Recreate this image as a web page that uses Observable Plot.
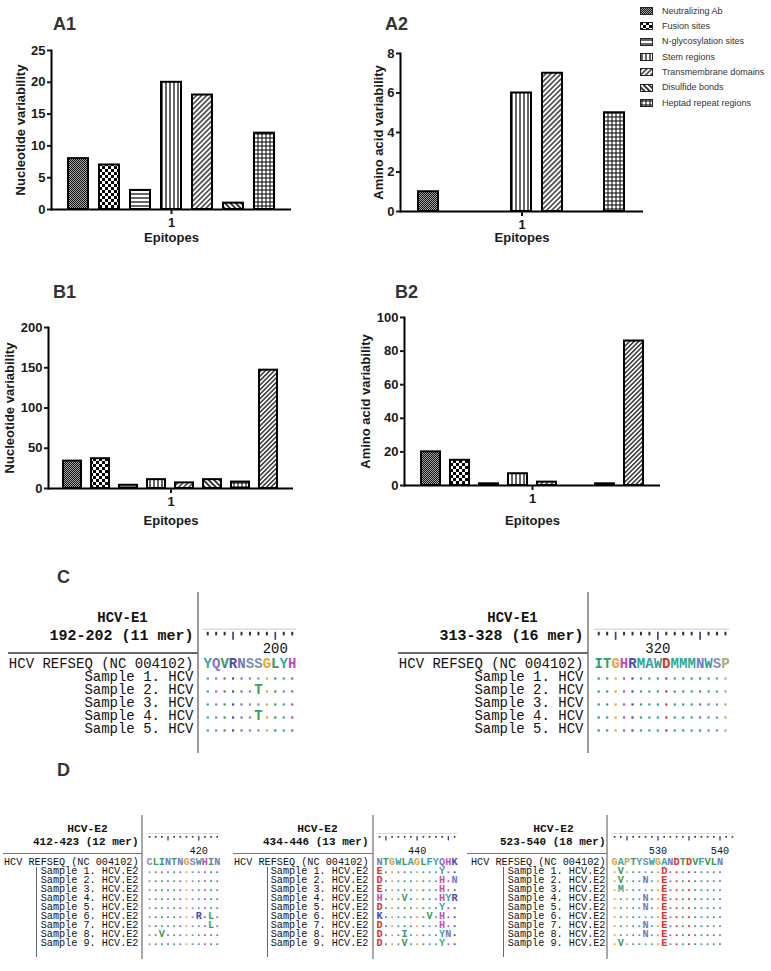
<!DOCTYPE html>
<html>
<head>
<meta charset="utf-8">
<script src="https://cdn.jsdelivr.net/npm/d3@7"></script>
<script src="https://cdn.jsdelivr.net/npm/@observablehq/plot@0.6"></script>
<style>
  html, body { margin: 0; padding: 0; background: #fff; }
  #page { position: relative; width: 771px; height: 971px; overflow: hidden; background: #fff; }
  .ttl { position: absolute; font: bold 18px "Liberation Sans", Arial, sans-serif; line-height: 18px; color: #333; white-space: nowrap; }
  .leg { position: absolute; font: 9px "Liberation Sans", Arial, sans-serif; line-height: 11px; color: #333; white-space: nowrap; display: flex; align-items: center; }
  .leg svg { margin-right: 9px; }
  .ln { position: absolute; }
</style>
</head>
<body>
<svg width="0" height="0" style="position:absolute;left:0;top:0">
  <defs>
    <pattern id="pat-neut" width="2" height="2" patternUnits="userSpaceOnUse">
      <rect width="2" height="2" fill="#a8a8a8"/>
      <rect width="1" height="1" fill="#111"/>
      <rect x="1" y="1" width="1" height="1" fill="#111"/>
    </pattern>
    <pattern id="pat-fusion" width="6" height="6" patternUnits="userSpaceOnUse">
      <rect width="6" height="6" fill="#fff"/>
      <rect width="3" height="3" fill="#000"/>
      <rect x="3" y="3" width="3" height="3" fill="#000"/>
    </pattern>
    <pattern id="pat-hline" width="4" height="4" patternUnits="userSpaceOnUse">
      <rect width="4" height="4" fill="#fff"/>
      <line x1="0" y1="2" x2="4" y2="2" stroke="#000" stroke-width="1.2"/>
    </pattern>
    <pattern id="pat-vline" width="4" height="4" patternUnits="userSpaceOnUse">
      <rect width="4" height="4" fill="#fff"/>
      <line x1="2" y1="0" x2="2" y2="4" stroke="#000" stroke-width="1.2"/>
    </pattern>
    <pattern id="pat-fdiag" width="3.6" height="3.6" patternUnits="userSpaceOnUse" patternTransform="rotate(45)">
      <rect width="3.6" height="3.6" fill="#fff"/>
      <line x1="1.8" y1="0" x2="1.8" y2="3.6" stroke="#000" stroke-width="1.2"/>
    </pattern>
    <pattern id="pat-bdiag" width="3.8" height="3.8" patternUnits="userSpaceOnUse" patternTransform="rotate(-45)">
      <rect width="3.8" height="3.8" fill="#fff"/>
      <line x1="1.9" y1="0" x2="1.9" y2="3.8" stroke="#000" stroke-width="1.5"/>
    </pattern>
    <pattern id="pat-grid" width="4" height="4" patternUnits="userSpaceOnUse">
      <rect width="4" height="4" fill="#fff"/>
      <line x1="0" y1="2" x2="4" y2="2" stroke="#000" stroke-width="1"/>
      <line x1="2" y1="0" x2="2" y2="4" stroke="#000" stroke-width="1"/>
    </pattern>
    <pattern id="pat-fdiag2" width="3.2" height="3.2" patternUnits="userSpaceOnUse" patternTransform="rotate(45)">
      <rect width="3.2" height="3.2" fill="#fff"/>
      <line x1="1.6" y1="0" x2="1.6" y2="3.2" stroke="#000" stroke-width="1.2"/>
    </pattern>
  </defs>
</svg>
<div id="page"></div>
<script>
// ---------------- DATA ----------------
const epitope = "1";
const categories = ["Neutralizing Ab", "Fusion sites", "N-glycosylation sites", "Stem regions",
  "Transmembrane domains", "Disulfide bonds", "Heptad repeat regions"];
const categoriesB = [...categories, "Other region"];

const a1Values = [8, 7, 3, 20, 18, 1, 12];
const a2Values = [1, 0, 0, 6, 7, 0, 5];
const b1Values = [34, 37, 4, 11, 7, 11, 8, 147];
const b2Values = [20, 15, 1, 7, 2, 0, 1, 86];

const a1Ticks = [0, 5, 10, 15, 20, 25];
const a2Ticks = [0, 2, 4, 6, 8];
const b1Ticks = [0, 50, 100, 150, 200];
const b2Ticks = [0, 20, 40, 60, 80, 100];

const refName = "HCV REFSEQ (NC 004102)";

const c1Gene = "HCV-E1", c1Range = "192-202 (11 mer)", c1Start = 192;
const c1Ref = "YQVRNSSGLYH";
const c1Samples = ["...........", "......T....", "...........", "......T....", "..........."];
const c1Names = ["Sample 1. HCV", "Sample 2. HCV", "Sample 3. HCV", "Sample 4. HCV", "Sample 5. HCV"];

const c2Gene = "HCV-E1", c2Range = "313-328 (16 mer)", c2Start = 313;
const c2Ref = "ITGHRMAWDMMMNWSP";
const c2Samples = ["................", "................", "................", "................", "................"];
const c2Names = ["Sample 1. HCV", "Sample 2. HCV", "Sample 3. HCV", "Sample 4. HCV", "Sample 5. HCV"];

const dNames = ["Sample 1. HCV.E2", "Sample 2. HCV.E2", "Sample 3. HCV.E2", "Sample 4. HCV.E2",
  "Sample 5. HCV.E2", "Sample 6. HCV.E2", "Sample 7. HCV.E2", "Sample 8. HCV.E2", "Sample 9. HCV.E2"];

const d1Gene = "HCV-E2", d1Range = "412-423 (12 mer)", d1Start = 412;
const d1Ref = "CLINTNGSWHIN";
const d1Samples = ["............", "............", "............", "............", "............",
  "........R.L.", "..........L.", "..V.........", "............"];

const d2Gene = "HCV-E2", d2Range = "434-446 (13 mer)", d2Start = 434;
const d2Ref = "NTGWLAGLFYQHK";
const d2Samples = ["E.........Y..", "D.........H.N", "E.........H..", "H...V.....HYR", "D.........Y..",
  "K.......V.H..", "D.........H..", "D...I.....YN.", "D...V.....Y.."];

const d3Gene = "HCV-E2", d3Range = "523-540 (18 mer)", d3Start = 523, d3RulerLen = 20;
const d3Ref = "GAPTYSWGANDTDVFVLN";
const d3Samples = [".V......D.........", ".V...N..E.........", ".M......E.........", ".....N..E.........",
  ".....N..E.........", "........E.........", ".....N..E.........", ".....N..E.........", ".V......E........."];

// ---------------- STYLE ----------------
const FONT = '"Liberation Sans", Arial, Helvetica, sans-serif';
const MONO = '"Liberation Mono", "Courier New", monospace';
const patternOf = {
  "Neutralizing Ab": "pat-neut", "Fusion sites": "pat-fusion", "N-glycosylation sites": "pat-hline",
  "Stem regions": "pat-vline", "Transmembrane domains": "pat-fdiag", "Disulfide bonds": "pat-bdiag",
  "Heptad repeat regions": "pat-grid", "Other region": "pat-fdiag2"
};
const aaColor = {A:"#33a59a", C:"#9685cc", D:"#e3302b", E:"#e3302b", F:"#2fa5a0", G:"#f2a12e", H:"#c24bb5",
  I:"#2e9c78", K:"#4546bd", L:"#3d9e4a", M:"#2ea78f", N:"#7376c6", P:"#b3ab6c", Q:"#8a6fc6", R:"#4a4db3",
  S:"#7e8fc2", T:"#3aa062", V:"#3b9a55", W:"#33a3a3", Y:"#2fa8a8"};

const page = document.getElementById("page");
function place(el, left, top) {
  el.style.position = "absolute";
  el.style.left = left + "px";
  el.style.top = top + "px";
  page.appendChild(el);
  return el;
}
function title(text, left, top) {
  const d = document.createElement("div");
  d.className = "ttl"; d.textContent = text;
  return place(d, left, top);
}
function line(x, y, w, h, color) {
  const d = document.createElement("div");
  d.className = "ln";
  d.style.width = w + "px"; d.style.height = h + "px"; d.style.background = color;
  return place(d, x, y);
}

// ---------------- BAR CHARTS ----------------
function barChart(o) {
  const data = o.cats.map((c, i) => ({category: c, value: o.values[i], epitope}));
  const svg = Plot.plot({
    width: o.width, height: o.height,
    marginLeft: o.mL, marginRight: o.mR, marginTop: o.mT, marginBottom: o.mB,
    style: {fontFamily: FONT, fontSize: "13px", fontWeight: "bold", color: "#1a1a1a", background: "transparent", overflow: "visible"},
    fx: {domain: [epitope], padding: 0},
    x: {domain: o.cats, axis: null, paddingInner: 0.35, paddingOuter: 0.54},
    y: {domain: [0, o.ticks[o.ticks.length - 1]]},
    color: {type: "identity"},
    marks: [
      Plot.barY(data, {fx: "epitope", x: "category", y: "value",
        fill: d => `url(#${patternOf[d.category]})`, stroke: "#000", strokeWidth: 2}),
      Plot.ruleY([0], {stroke: "#000", strokeWidth: 2}),
      Plot.frame({anchor: "left", stroke: "#000", strokeWidth: 2}),
      Plot.axisY({ticks: o.ticks, tickSize: 4, tickPadding: 2, strokeWidth: 2, tickFormat: d => String(d),
        label: o.yLabel, labelArrow: "none", labelAnchor: "center", labelOffset: o.yLabelOffset}),
      Plot.axisFx({anchor: "bottom", tickSize: 5, tickPadding: 3, strokeWidth: 2,
        label: "Epitopes", labelArrow: "none", labelAnchor: "center", labelOffset: o.xLabelOffset})
    ]
  });
  return place(svg, o.left, o.top);
}

barChart({values: a1Values, cats: categories, ticks: a1Ticks, yLabel: "Nucleotide variability",
  left: 0, top: 40, width: 300, height: 209, mL: 51, mR: 9, mT: 10, mB: 40, yLabelOffset: 36, xLabelOffset: 32});
barChart({values: a2Values, cats: categories, ticks: a2Ticks, yLabel: "Amino acid variability",
  left: 350, top: 43, width: 300, height: 208, mL: 50, mR: 7, mT: 10, mB: 40, yLabelOffset: 27, xLabelOffset: 30});
barChart({values: b1Values, cats: categoriesB, ticks: b1Ticks, yLabel: "Nucleotide variability",
  left: 0, top: 317, width: 300, height: 215, mL: 48, mR: 7, mT: 10, mB: 44, yLabelOffset: 44, xLabelOffset: 36});
barChart({values: b2Values, cats: categoriesB, ticks: b2Ticks, yLabel: "Amino acid variability",
  left: 354, top: 307, width: 310, height: 224, mL: 50, mR: 4, mT: 10, mB: 46, yLabelOffset: 44, xLabelOffset: 39});

title("A1", 53, 15);
title("A2", 385, 15);
title("B1", 53, 283);
title("B2", 395, 283);
title("C", 57, 568);
title("D", 57, 761);

// legend
categories.forEach((c, i) => {
  const d = document.createElement("div");
  d.className = "leg";
  d.innerHTML = `<svg width="13" height="8"><rect x="0.5" y="0.5" width="12" height="7" fill="url(#${patternOf[c]})" stroke="#222" stroke-width="1"/></svg><span>${c}</span>`;
  place(d, 640, 5.5 + i * 15.35);
});

// ---------------- ALIGNMENTS ----------------
function alignment(gene, range, start, ref, samples, names, rulerLen, L) {
  const rows = ["title", "ruler", "num", "ref", ...samples.map((_, i) => "s" + i)];
  const mT = 20, mB = 10;
  const top0 = L.refY - 3.5 * L.step - mT;
  const height = mT + rows.length * L.step + mB;
  const width = L.seqLeft + rulerLen * L.cw + 12;
  const center = k => top0 + mT + (rows.indexOf(k) + 0.5) * L.step;
  const bt = center("ruler") - L.step / 2;

  const residues = [];
  [ref, ...samples].forEach((seq, r) => {
    const key = r === 0 ? "ref" : "s" + (r - 1);
    for (let i = 0; i < seq.length; i++) {
      const ch = seq[i];
      residues.push({row: key, pos: start + i, ch, col: ch === "." ? aaColor[ref[i]] : aaColor[ch]});
    }
  });
  const letters = residues.filter(d => d.ch !== ".");
  const matches = residues.filter(d => d.ch === ".");
  const labels = [{row: "ref", name: refName}, ...names.map((nm, i) => ({row: "s" + i, name: nm}))];
  const positions = d3.range(start, start + rulerLen);
  const minor = positions.filter(d => d % 5 !== 0);
  const major = positions.filter(d => d % 5 === 0);
  const tens = positions.filter(d => d % 10 === 0);

  const svg = Plot.plot({
    width, height, marginLeft: L.seqLeft, marginRight: 12, marginTop: mT, marginBottom: mB,
    style: {fontFamily: MONO, fontSize: L.fs + "px", color: "#111", background: "transparent", overflow: "visible"},
    x: {domain: [start - 0.5, start + rulerLen - 0.5], axis: null},
    y: {type: "band", domain: rows, paddingInner: 0, paddingOuter: 0, axis: null},
    color: {type: "identity"},
    marks: [
      Plot.barX([start], {x1: d => d - 0.5, x2: d => d - 0.5 + rulerLen, y: () => "ruler",
        insetTop: L.barTop - bt, insetBottom: bt + L.step - L.barBot, fill: "#d2d2d2"}),
      Plot.tickX(minor, {x: d => d, y: () => "ruler", insetTop: L.rulerTop - bt,
        insetBottom: bt + L.step - L.shortBot, stroke: "#333", strokeWidth: L.tw}),
      Plot.tickX(major, {x: d => d, y: () => "ruler", insetTop: L.rulerTop - bt,
        insetBottom: bt + L.step - L.longBot, stroke: "#4a3c88", strokeWidth: L.tw * 0.85}),
      Plot.text(tens, {x: d => d, y: () => "num", text: d => String(d), dy: L.numY - center("num"),
        fontSize: L.fs, fill: "#111"}),
      Plot.text([gene], {y: () => "title", text: d => d, frameAnchor: "left", dx: L.titleDx,
        dy: L.titleY - center("title"), textAnchor: "middle", fontWeight: "bold", fontSize: L.hs}),
      Plot.text([range], {y: () => "ruler", text: d => d, frameAnchor: "left", dx: -L.nameGap,
        dy: L.rangeY - center("ruler"), textAnchor: "end", fontWeight: "bold", fontSize: L.rs}),
      Plot.text(labels, {y: "row", text: "name", frameAnchor: "left", dx: -L.nameGap,
        textAnchor: "end", fontSize: L.fs}),
      Plot.dot(matches, {x: "pos", y: "row", fill: "col", symbol: "square", r: L.dotR, dy: L.dotDy}),
      Plot.text(letters, {x: "pos", y: "row", text: "ch", fill: "col", fontWeight: "bold", fontSize: L.fs})
    ]
  });
  return place(svg, 0, top0);
}

const cLayout = {refY: 663, step: 13.4, fs: 14, hs: 14, rs: 15, tw: 2, dotR: 1.25, dotDy: 1.5,
  titleY: 615, rangeY: 633, numY: 647, rulerTop: 630.3, shortBot: 634.3, longBot: 638.7, barTop: 627.2, barBot: 628.8};
const dLayout = {refY: 860, step: 9.6, fs: 10.2, hs: 11.3, rs: 11, tw: 1.6, dotR: 1, dotDy: 1.2,
  titleY: 825, rangeY: 838, numY: 848, rulerTop: 833, shortBot: 835.3, longBot: 838, barTop: 830, barBot: 831.3};

alignment(c1Gene, c1Range, c1Start, c1Ref, c1Samples, c1Names, c1Ref.length,
  {...cLayout, seqLeft: 203, cw: 8.45, nameGap: 10, titleDx: -81});
alignment(c2Gene, c2Range, c2Start, c2Ref, c2Samples, c2Names, c2Ref.length,
  {...cLayout, seqLeft: 594, cw: 8.45, nameGap: 11, titleDx: -82});
alignment(d1Gene, d1Range, d1Start, d1Ref, d1Samples, dNames, d1Ref.length,
  {...dLayout, seqLeft: 146, cw: 6.15, nameGap: 8, titleDx: -59});
alignment(d2Gene, d2Range, d2Start, d2Ref, d2Samples, dNames, d2Ref.length,
  {...dLayout, seqLeft: 376, cw: 6.25, nameGap: 8, titleDx: -59});
alignment(d3Gene, d3Range, d3Start, d3Ref, d3Samples, dNames, d3RulerLen,
  {...dLayout, seqLeft: 611, cw: 6.2, nameGap: 6, titleDx: -58});

// divider / separator lines of the alignment panels
[198, 588].forEach(x => line(x - 1, 592, 2, 161, "#9a9a9a"));
[[8, 198], [398, 588]].forEach(([a, b]) => line(a, 652, b - a, 2, "#6a6a6a"));
[142, 373, 607].forEach(x => line(x - 0.75, 815, 1.5, 144, "#a8a8a8"));
[[3, 142], [233, 373], [467, 607]].forEach(([a, b]) => line(a, 852.5, b - a, 1.5, "#777"));
[36, 267, 503].forEach(x => line(x - 0.5, 867, 1, 90, "#666"));
</script>
</body>
</html>
